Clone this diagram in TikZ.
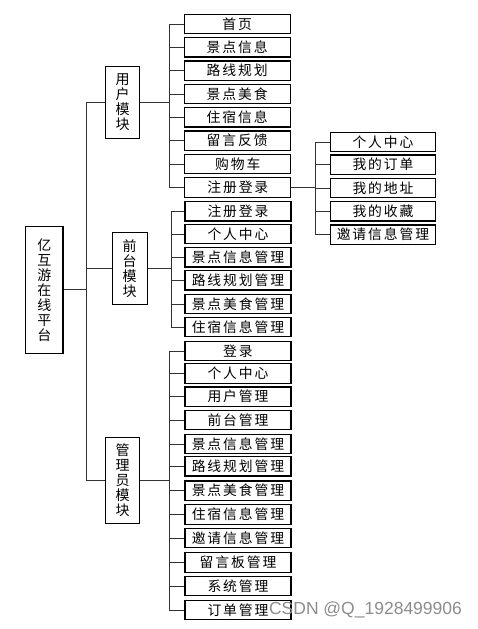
\documentclass[tikz,border=0pt]{standalone}
\usepackage{fontspec}
\newfontfamily\cjk{Noto Sans CJK SC}[LetterSpace=14]
\newfontfamily\cjkv{Noto Sans CJK SC}
\setsansfont{Liberation Sans}
\begin{document}
\begin{tikzpicture}[x=1pt,y=-1pt,
  box/.style={draw=black,line width=1.1pt,minimum width=106pt,minimum height=19.4pt,inner sep=0pt,font=\fontsize{13.8}{15}\cjk},
  vbox/.style={draw=black,line width=1.1pt,inner sep=0pt,align=center,font=\fontsize{14}{15}\cjkv},
  conn/.style={draw=black!80,line width=0.9pt}]
\useasboundingbox (0,0) rectangle (477,629);
% main
\node[vbox,minimum width=37.3pt,minimum height=127pt] (main) at (44.3,289.8) {亿\\互\\游\\在\\线\\平\\台};
% modules
\node[vbox,minimum width=34pt,minimum height=72pt] (um) at (122.7,102.3) {用\\户\\模\\块};
\node[vbox,minimum width=34.7pt,minimum height=72pt] (fm) at (129.7,268.3) {前\\台\\模\\块};
\node[vbox,minimum width=34pt,minimum height=86pt] (am) at (122.7,480.3) {管\\理\\员\\模\\块};
% user children
\node[box] (u1) at (237.2,24) {首页};
\node[box] (u2) at (237.2,47.3) {景点信息};
\node[box] (u3) at (237.2,70.7) {路线规划};
\node[box] (u4) at (237.2,94) {景点美食};
\node[box] (u5) at (237.2,117.3) {住宿信息};
\node[box] (u6) at (237.2,140.7) {留言反馈};
\node[box] (u7) at (237.8,164) {购物车};
\node[box] (u8) at (237.8,187.5) {注册登录};
% sub of u8
\node[box,minimum width=105.4pt] (s1) at (383,142) {个人中心};
\node[box,minimum width=105.4pt] (s2) at (383,164.7) {我的订单};
\node[box,minimum width=105.4pt] (s3) at (383,188) {我的地址};
\node[box,minimum width=105.4pt] (s4) at (383,211.3) {我的收藏};
\node[box,minimum width=105.4pt] (s5) at (383,234.7) {邀请信息管理};
% front children
\node[box] (f1) at (238,211.3) {注册登录};
\node[box] (f2) at (238,234) {个人中心};
\node[box] (f3) at (238,257.3) {景点信息管理};
\node[box] (f4) at (238,280.3) {路线规划管理};
\node[box] (f5) at (238,304) {景点美食管理};
\node[box] (f6) at (238,327) {住宿信息管理};
% admin children
\node[box] (a1) at (238,351) {登录};
\node[box] (a2) at (238,373.4) {个人中心};
\node[box] (a3) at (238,396.7) {用户管理};
\node[box] (a4) at (238,420.1) {前台管理};
\node[box] (a5) at (238,444) {景点信息管理};
\node[box] (a6) at (238,466.3) {路线规划管理};
\node[box] (a7) at (238,490.7) {景点美食管理};
\node[box] (a8) at (238,514.5) {住宿信息管理};
\node[box] (a9) at (238,538) {邀请信息管理};
\node[box] (a10) at (238,562.5) {留言板管理};
\node[box] (a11) at (238,586.2) {系统管理};
\node[box] (a12) at (238,610.2) {订单管理};
% trunk
\coordinate (t) at (86,289.8);
\draw[conn] (main.east) -- (t);
\draw[conn] (um.west) -| (t);
\draw[conn] (fm.west) -| (t);
\draw[conn] (am.west) -| (t);
% user bus
\coordinate (ub) at (169.7,102.3);
\draw[conn] (um.east) -- (ub);
\foreach \n in {u1,u2,u3,u4,u5,u6,u7,u8} \draw[conn] (\n.west) -| (ub);
% front bus
\coordinate (fb) at (171.3,268.3);
\draw[conn] (fm.east) -- (fb);
\foreach \n in {f1,f2,f3,f4,f5,f6} \draw[conn] (\n.west) -| (fb);
% admin bus
\coordinate (ab) at (169.7,480.3);
\draw[conn] (am.east) -- (ab);
\foreach \n in {a1,a2,a3,a4,a5,a6,a7,a8,a9,a10,a11,a12} \draw[conn] (\n.west) -| (ab);
% sub bus
\coordinate (sb) at (315.7,187.5);
\draw[conn] (u8.east) -- (sb);
\foreach \n in {s1,s2,s3,s4,s5} \draw[conn] (\n.west) -| (sb);
% watermark
\node[text=black!45,font=\fontsize{17.5}{20}\sffamily,inner sep=0pt] (wm) at (365.5,610) {CSDN @Q\_1928499906};
\end{tikzpicture}
\end{document}
